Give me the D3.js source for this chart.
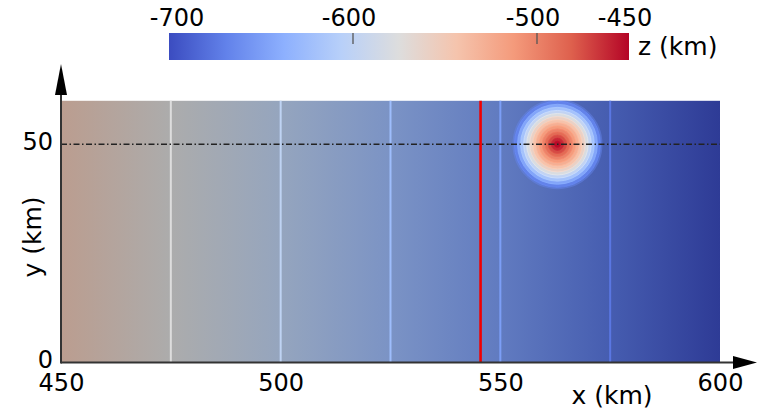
<!DOCTYPE html>
<html>
<head>
<meta charset="utf-8">
<script src="https://cdn.jsdelivr.net/npm/d3@7"></script>
<style>
  html, body { margin: 0; padding: 0; background: #fff; }
  svg { display: block; font-family: 'DejaVu Sans', sans-serif; }
</style>
</head>
<body>
<div id="chart"></div>
<script>
// Datos
const xTicks = [450, 500, 550, 600];
const yTicks = [0, 50];
const cbTicks = [-700, -600, -500, -450];
// perfil de profundidad del fondo (z en km) a lo largo de x
const profileX = [450, 475, 500, 525, 550, 575, 600];
const profileZ = [-550, -575, -600, -625, -650, -675, -700];
// niveles de contorno (líneas verticales)
const contourZ = [-575, -600, -625, -650, -675];
// anomalía circular: radios (km) y nivel z de cada anillo
const bumpCenter = [563, 50];
const bumpRadius = [9.8, 9.1, 8.4, 7.7, 7.0, 6.3, 5.6, 4.9, 4.2, 3.5, 2.8, 2.1, 1.4, 0.7];
const bumpZ = [-668, -645, -620, -598, -578, -560, -543, -528, -514, -500, -487, -474, -462, -452];
// sección (línea roja) y perfil horizontal (línea punto-raya)
const sectionX = 545.5;
const profileY = 50;

// mapa de color coolwarm
const cwT = [0, 0.125, 0.25, 0.375, 0.5, 0.625, 0.75, 0.875, 1];
const cwColors = ['#3b4cc0', '#6282ea', '#8db0fe', '#b8d0f9', '#dddddd',
                  '#f5c4ad', '#f49a7b', '#de604d', '#b40426'];

const width = 757, height = 412;
const svg = d3.select('#chart').append('svg')
    .attr('width', width).attr('height', height);
const defs = svg.append('defs');

const x = d3.scaleLinear().domain([450, 600]).range([61, 720]);
const y = d3.scaleLinear().domain([0, 60]).range([362.5, 100.6]);
const zMin = -700, zMax = -450;
const color = d3.scaleLinear()
    .domain(cwT.map(t => zMin + t * (zMax - zMin)))
    .range(cwColors)
    .interpolate(d3.interpolateRgb);
const zToX = d3.scaleLinear().domain(profileZ).range(profileX);

function shade(c, k) {
    const r = d3.rgb(c);
    return d3.rgb(r.r * k, r.g * k, r.b * k).formatHex();
}

// Fondo (superficie sombreada)
const bg = defs.append('linearGradient')
    .attr('id', 'bg-grad')
    .attr('gradientUnits', 'userSpaceOnUse')
    .attr('x1', x(450)).attr('x2', x(600)).attr('y1', 0).attr('y2', 0);
profileX.forEach((px, i) => {
    bg.append('stop')
        .attr('offset', (px - 450) / 150)
        .attr('stop-color', shade(color(profileZ[i]), 0.78));
});

defs.append('clipPath').attr('id', 'plot-clip')
    .append('rect')
    .attr('x', x(450)).attr('y', y(60))
    .attr('width', x(600) - x(450)).attr('height', y(0) - y(60));

const plot = svg.append('g').attr('clip-path', 'url(#plot-clip)');

plot.append('rect')
    .attr('x', x(450)).attr('y', y(60))
    .attr('width', x(600) - x(450)).attr('height', y(0) - y(60))
    .attr('fill', 'url(#bg-grad)');

// Líneas de contorno
plot.selectAll('line.contour')
    .data(contourZ)
    .join('line')
    .attr('class', 'contour')
    .attr('x1', d => x(zToX(d))).attr('x2', d => x(zToX(d)))
    .attr('y1', y(60)).attr('y2', y(0))
    .attr('stroke', d => color(d))
    .attr('stroke-width', 2);

// Anomalía circular
const pxPerKm = x(451) - x(450);
plot.append('circle')
    .attr('cx', x(bumpCenter[0])).attr('cy', y(bumpCenter[1]))
    .attr('r', bumpRadius[0] * pxPerKm + 1)
    .attr('fill', 'none')
    .attr('stroke', color(bumpZ[0]))
    .attr('stroke-opacity', 0.5)
    .attr('stroke-width', 2);

plot.selectAll('circle.ring')
    .data(bumpRadius.map((r, i) => ({ r: r, z: bumpZ[i] })))
    .join('circle')
    .attr('class', 'ring')
    .attr('cx', x(bumpCenter[0])).attr('cy', y(bumpCenter[1]))
    .attr('r', d => d.r * pxPerKm)
    .attr('fill', d => color(d.z))
    .attr('stroke', d => d3.color(color(d.z)).brighter(0.15))
    .attr('stroke-width', 0.8);

// Línea de sección (roja)
plot.append('line')
    .attr('x1', x(sectionX)).attr('x2', x(sectionX))
    .attr('y1', y(60)).attr('y2', y(0))
    .attr('stroke', '#f00000')
    .attr('stroke-width', 2.6);

// Perfil horizontal (punto-raya)
svg.append('line')
    .attr('x1', x(450)).attr('x2', x(600))
    .attr('y1', y(profileY)).attr('y2', y(profileY))
    .attr('stroke', '#222')
    .attr('stroke-width', 1.4)
    .attr('stroke-dasharray', '6,2.5,1.5,2.5');

// Ejes con flechas
const axisColor = '#333';
svg.append('line')
    .attr('x1', x(450)).attr('x2', 734)
    .attr('y1', y(0)).attr('y2', y(0))
    .attr('stroke', axisColor).attr('stroke-width', 2);
svg.append('polygon')
    .attr('points', `733,${y(0) - 6.5} 757,${y(0)} 733,${y(0) + 6.5}`)
    .attr('fill', '#000');
svg.append('line')
    .attr('x1', x(450)).attr('x2', x(450))
    .attr('y1', y(0) + 1).attr('y2', 94)
    .attr('stroke', axisColor).attr('stroke-width', 2);
svg.append('polygon')
    .attr('points', `${x(450) - 6},95 ${x(450)},64 ${x(450) + 6},95`)
    .attr('fill', '#000');

const gx = svg.append('g')
    .attr('transform', `translate(0,${y(0)})`)
    .call(d3.axisBottom(x).tickValues(xTicks).tickSize(0).tickPadding(11).tickFormat(d3.format('d')));
gx.select('.domain').remove();
gx.selectAll('text').attr('font-size', '24px').attr('font-family', "'DejaVu Sans', sans-serif").attr('fill', '#000');

const gy = svg.append('g')
    .attr('transform', `translate(${x(450)},0)`)
    .call(d3.axisLeft(y).tickValues(yTicks).tickSize(0).tickPadding(8).tickFormat(d3.format('d')));
gy.select('.domain').remove();
gy.selectAll('text').attr('font-size', '24px').attr('font-family', "'DejaVu Sans', sans-serif").attr('fill', '#000')
    .attr('dy', '0.22em');

svg.append('text')
    .attr('x', 612).attr('y', 404)
    .attr('text-anchor', 'middle')
    .attr('font-size', '25px')
    .text('x (km)');

svg.append('text')
    .attr('transform', 'translate(41,237) rotate(-90)')
    .attr('text-anchor', 'middle')
    .attr('font-size', '25px')
    .text('y (km)');

// Barra de color
const cb = d3.scaleLinear().domain([zMin, zMax]).range([169, 629]);
const cbGrad = defs.append('linearGradient')
    .attr('id', 'cb-grad')
    .attr('x1', 0).attr('x2', 1).attr('y1', 0).attr('y2', 0);
cwT.forEach((t, i) => {
    cbGrad.append('stop').attr('offset', t).attr('stop-color', cwColors[i]);
});
svg.append('rect')
    .attr('x', cb(zMin)).attr('y', 33)
    .attr('width', cb(zMax) - cb(zMin)).attr('height', 27)
    .attr('fill', 'url(#cb-grad)');

svg.selectAll('line.cbtick')
    .data(cbTicks.filter(d => d > zMin && d < zMax))
    .join('line')
    .attr('class', 'cbtick')
    .attr('x1', d => cb(d)).attr('x2', d => cb(d))
    .attr('y1', 33).attr('y2', 44)
    .attr('stroke', '#555')
    .attr('stroke-width', 1.3);

svg.selectAll('text.cblabel')
    .data(cbTicks)
    .join('text')
    .attr('class', 'cblabel')
    .attr('x', d => d === zMin ? cb(d) + 8 : cb(d) - 4)
    .attr('y', 26)
    .attr('text-anchor', 'middle')
    .attr('font-size', '24px')
    .text(d => d);

svg.append('text')
    .attr('x', 638).attr('y', 55)
    .attr('font-size', '25px')
    .text('z (km)');
</script>
</body>
</html>
